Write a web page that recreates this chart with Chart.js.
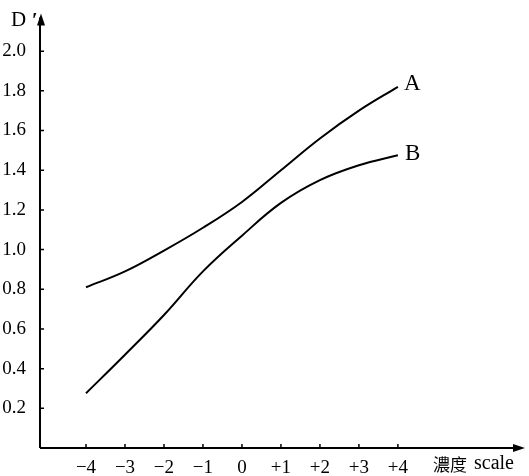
<!DOCTYPE html>
<html>
<head>
<meta charset="utf-8">
<script src="https://cdn.jsdelivr.net/npm/chart.js@4"></script>
<style>
  html, body { margin: 0; padding: 0; background: #fff; }
  #wrap { width: 529px; height: 476px; }
</style>
</head>
<body>
<div id="wrap"><canvas id="chart"></canvas></div>
<script>
const scalePoints = [-4, -3, -2, -1, 0, 1, 2, 3, 4];
const xTickLabels = ['\u22124', '\u22123', '\u22122', '\u22121', '0', '+1', '+2', '+3', '+4'];
const curveA = [0.81, 0.89, 0.995, 1.11, 1.24, 1.40, 1.56, 1.70, 1.82];
const curveB = [0.276, 0.47, 0.67, 0.89, 1.07, 1.235, 1.35, 1.425, 1.475];
const yTicks = [0.2, 0.4, 0.6, 0.8, 1.0, 1.2, 1.4, 1.6, 1.8, 2.0];

const serif = '"Liberation Serif", "DejaVu Serif", serif';

function toPoints(values) {
    return scalePoints.map((x, i) => ({ x, y: values[i] }));
}

// axes with arrows, inward tick marks, curve labels and axis titles
const axesPlugin = {
    id: 'axesPlugin',
    afterDraw(chart) {
        const { ctx, chartArea, scales } = chart;
        const x0 = chartArea.left, y0 = chartArea.bottom;
        ctx.save();
        ctx.strokeStyle = '#000';
        ctx.fillStyle = '#000';
        ctx.lineWidth = 2;

        ctx.beginPath();
        ctx.moveTo(x0, y0);
        ctx.lineTo(x0, chartArea.top);
        ctx.moveTo(x0, y0);
        ctx.lineTo(chartArea.right - 4, y0);
        ctx.stroke();

        // arrow heads
        ctx.beginPath();
        ctx.moveTo(x0 + 1, chartArea.top - 4);
        ctx.lineTo(x0 - 3, chartArea.top + 8);
        ctx.lineTo(x0 + 5, chartArea.top + 8);
        ctx.closePath();
        ctx.fill();
        ctx.beginPath();
        ctx.moveTo(chartArea.right, y0);
        ctx.lineTo(chartArea.right - 12, y0 - 4);
        ctx.lineTo(chartArea.right - 12, y0 + 4);
        ctx.closePath();
        ctx.fill();

        ctx.lineWidth = 1.5;
        ctx.beginPath();
        yTicks.forEach(v => {
            const py = scales.y.getPixelForValue(v);
            ctx.moveTo(x0, py);
            ctx.lineTo(x0 + 4, py);
        });
        scalePoints.forEach(v => {
            const px = scales.x.getPixelForValue(v);
            ctx.moveTo(px, y0);
            ctx.lineTo(px, y0 - 4);
        });
        ctx.stroke();

        ctx.font = '23px ' + serif;
        ctx.textAlign = 'left';
        ctx.textBaseline = 'middle';
        const lastX = scales.x.getPixelForValue(scalePoints[scalePoints.length - 1]);
        ctx.fillText('A', lastX + 6, scales.y.getPixelForValue(curveA[curveA.length - 1]) - 3);
        ctx.fillText('B', lastX + 7, scales.y.getPixelForValue(curveB[curveB.length - 1]) - 1);

        ctx.font = '21px ' + serif;
        ctx.fillText('D', 11, 20);
        ctx.font = 'bold 20px ' + serif;
        ctx.fillText('\u2032', 32, 22);

        ctx.font = '17px "Noto Sans CJK TC", ' + serif;
        ctx.fillText('濃度', 433, y0 + 17);
        ctx.font = '20px ' + serif;
        ctx.fillText('scale', 474, y0 + 16);
        ctx.restore();
    }
};

function lineDataset(label, values) {
    return {
        label,
        data: toPoints(values),
        borderColor: '#000',
        backgroundColor: 'transparent',
        borderWidth: 2,
        pointRadius: 0,
        tension: 0.4
    };
}

new Chart(document.getElementById('chart').getContext('2d'), {
    type: 'line',
    data: {
        datasets: [
            lineDataset('A', curveA),
            lineDataset('B', curveB)
        ]
    },
    options: {
        responsive: true,
        maintainAspectRatio: false,
        animation: false,
        layout: { padding: { top: 17, right: 4, left: 0, bottom: 0 } },
        plugins: {
            legend: { display: false },
            tooltip: { enabled: false }
        },
        scales: {
            x: {
                type: 'linear',
                min: -5.18,
                max: 7.26,
                afterBuildTicks: s => { s.ticks = scalePoints.map(v => ({ value: v })); },
                afterFit: s => { s.height = 28; },
                grid: { display: false },
                border: { display: false },
                ticks: {
                    color: '#000',
                    padding: 1,
                    maxRotation: 0,
                    autoSkip: false,
                    font: { family: serif, size: 19 },
                    callback: v => xTickLabels[scalePoints.indexOf(v)]
                }
            },
            y: {
                min: 0,
                max: 2.17,
                afterBuildTicks: s => { s.ticks = yTicks.map(v => ({ value: v })); },
                afterFit: s => { s.width = 40; },
                grid: { display: false },
                border: { display: false },
                ticks: {
                    color: '#000',
                    padding: 6,
                    font: { family: serif, size: 19 },
                    callback: v => v.toFixed(1)
                }
            }
        }
    },
    plugins: [axesPlugin]
});
</script>
</body>
</html>
